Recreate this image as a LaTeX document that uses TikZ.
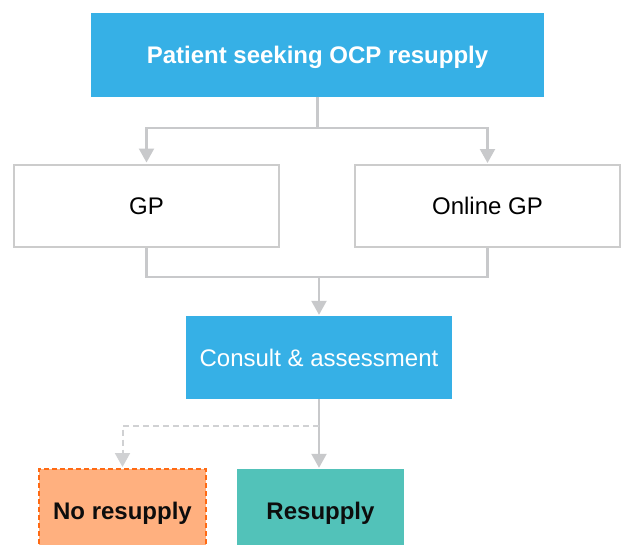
\documentclass[tikz,border=0pt]{standalone}
\usepackage{fontspec}
\setmainfont{Liberation Sans}
\usetikzlibrary{arrows.meta}
\definecolor{flowblue}{HTML}{36B0E6}
\definecolor{linegray}{HTML}{C8C9CB}
\definecolor{boxgray}{HTML}{CCCCCC}
\definecolor{peach}{HTML}{FFB07F}
\definecolor{orangeedge}{HTML}{FF6A13}
\definecolor{teal}{HTML}{52C2B9}
\begin{document}
\begin{tikzpicture}[x=1pt,y=-1pt,
  every node/.style={font=\fontsize{24}{28}\selectfont, inner sep=0pt, align=center,
    text height=17pt, text depth=0pt},
  bluebox/.style={fill=flowblue, text=white, draw=none},
  whitebox/.style={fill=white, draw=boxgray, line width=2pt, text=black},
  nobox/.style={fill=peach, draw=orangeedge, line width=2pt, dash pattern=on 5pt off 3pt, font=\fontsize{24}{28}\selectfont\bfseries, text=black!95},
  yesbox/.style={fill=teal, draw=none, font=\fontsize{24}{28}\selectfont\bfseries, text=black!95},
  conn/.style={draw=linegray, line width=2.2pt},
  arr/.style={conn, -{Triangle[width=15pt,length=14pt]}, shorten >=1pt},
  dasharr/.style={draw=linegray!85, line width=2pt, dash pattern=on 6pt off 4pt, -{Triangle[width=15pt,length=14pt]}, shorten >=1pt}
]
\useasboundingbox (0,0) rectangle (621,544);
\clip (0,0) rectangle (621,544);
\fill[white] (0,0) rectangle (621,544);

% boxes
\node[bluebox, minimum width=453pt, minimum height=84pt, font=\fontsize{24}{28}\selectfont\bfseries] (top) at (317.5,54.5) {Patient seeking OCP resupply};
\node[whitebox, minimum width=265pt, minimum height=82pt] (gp) at (146.5,205.5) {GP};
\node[whitebox, minimum width=265pt, minimum height=82pt] (online) at (487.5,206) {Online GP};
\node[bluebox, minimum width=266pt, minimum height=83pt] (consult) at (319,357.5) {Consult \& assessment};
\node[nobox, minimum width=167pt, minimum height=84pt] (nores) at (122.5,511) {No resupply};
\node[yesbox, minimum width=167pt, minimum height=84pt] (res) at (320.5,511) {Resupply};

% branch points
\coordinate (split) at (317.5,128);
\coordinate (merge) at (319,277);
\coordinate (fork) at (319,426);

% connectors
\draw[conn] (top.south) -- (split);
\draw[arr] (split) -| (gp.north);
\draw[arr] (split) -| (online.north);
\draw[conn] (gp.south) |- (merge) -| (online.south);
\draw[arr] (merge) -- (consult.north);
\draw[arr] (consult.south) -- (consult.south |- res.north);
\draw[dasharr] (fork) -| (nores.north);
\end{tikzpicture}
\end{document}
